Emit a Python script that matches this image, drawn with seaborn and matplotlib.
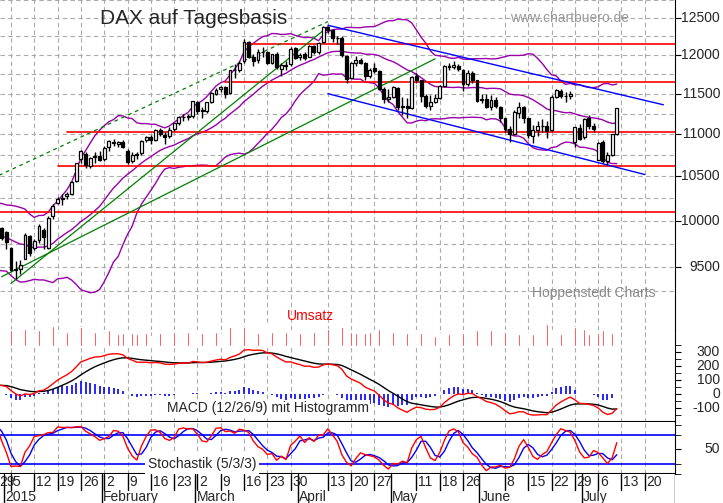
import numpy as np
import pandas as pd
import seaborn as sns
import matplotlib.pyplot as plt
import matplotlib.transforms as mtrans
from matplotlib.ticker import FixedLocator, NullLocator, NullFormatter

# warm-up closes (Nov/Dec 2014) used only for the indicators
warm_close = [9351, 9370, 9199, 9248, 9253, 9307, 9456, 9472, 9484, 9733, 9785, 9861, 9915,
              9974, 9980, 9963, 9935, 9972, 10087, 10014, 9799, 9799, 9812, 9594, 9335, 9563,
              9563, 9811, 9787, 9865, 9922]

# visible candles Dec 29 2014 .. Jul 10 2015
opens = [9850, 9920,
         9870, 9700, 9480, 9480, 9590, 9830, 9700, 9790, 9900, 9700, 10050, 10200, 10240, 10270, 10300, 10450, 10700, 10760, 10620, 10720, 10740,
         10700, 10840, 10900, 10880, 10900, 10800, 10680, 10760, 10770, 10930, 10960, 10930, 11050, 10990, 10970, 11060, 11140, 11210, 11220, 11220,
         11390, 11290, 11280, 11400, 11500, 11560, 11580, 11510, 11800, 11800, 11920, 12170, 11980, 11930, 12040, 12040, 11900, 12020, 11820, 11860, 11880, 12090,
         11970, 12010, 11980, 12120, 12040, 12170, 12380, 12330, 12230, 12230, 11990, 11700, 11900, 11940, 11900, 11730, 11830, 11790, 11560, 11430,
         11460, 11570, 11330, 11350, 11320, 11720, 11670, 11470, 11350, 11400, 11450, 11600, 11860, 11840, 11860, 11810, 11620, 11770, 11670,
         11420, 11430, 11330, 11420, 11330, 11190, 11060, 11000, 11260, 11330, 11190, 10980, 11050, 11100, 11100, 11050, 11460, 11540, 11470, 11470, 10900, 11070,
         10960, 11190, 11100, 10690, 10900, 10680, 10750, 11000]
highs = [9950, 9930,
         9880, 9710, 9560, 9570, 9860, 9840, 9800, 9960, 9920, 10050, 10180, 10260, 10300, 10320, 10450, 10660, 10810, 10780, 10730, 10780, 10800,
         10850, 10930, 10940, 10920, 10930, 10820, 10780, 10790, 10930, 10980, 10990, 11060, 11070, 11020, 11080, 11140, 11220, 11240, 11240, 11410,
         11410, 11330, 11400, 11520, 11570, 11600, 11600, 11810, 11880, 11920, 12220, 12190, 12020, 12080, 12100, 12060, 12020, 12040, 11900, 11920, 12100, 12100,
         12030, 12040, 12140, 12140, 12180, 12390, 12390, 12350, 12260, 12250, 12000, 11910, 11990, 11960, 11910, 11830, 11900, 11800, 11580, 11560,
         11600, 11580, 11460, 11440, 11720, 11760, 11680, 11500, 11480, 11500, 11610, 11870, 11900, 11920, 11880, 11820, 11800, 11790, 11680,
         11500, 11500, 11480, 11460, 11350, 11200, 11100, 11300, 11400, 11340, 11200, 11110, 11160, 11180, 11160, 11480, 11560, 11560, 11520, 11530, 11000, 11120,
         11200, 11230, 11130, 10900, 10930, 10780, 11000, 11320]
lows = [9800, 9790,
        9690, 9460, 9380, 9430, 9580, 9620, 9680, 9760, 9690, 9690, 10020, 10180, 10170, 10240, 10280, 10430, 10660, 10600, 10600, 10650, 10680,
        10680, 10800, 10850, 10840, 10830, 10640, 10660, 10700, 10750, 10900, 10880, 10920, 10980, 10880, 10950, 11040, 11110, 11160, 11170, 11200,
        11250, 11200, 11260, 11380, 11480, 11520, 11450, 11500, 11700, 11780, 11900, 11960, 11860, 11900, 11980, 11880, 11880, 11820, 11730, 11800, 11860, 11950,
        11930, 11940, 11970, 12020, 12020, 12160, 12290, 12180, 12150, 11980, 11630, 11700, 11860, 11880, 11680, 11700, 11760, 11550, 11380, 11400,
        11440, 11300, 11230, 11200, 11310, 11630, 11400, 11320, 11300, 11380, 11430, 11590, 11800, 11820, 11790, 11530, 11600, 11640, 11400,
        11380, 11320, 11290, 11320, 11150, 11030, 10900, 10990, 11200, 11140, 10950, 10890, 10980, 11030, 10950, 11040, 11440, 11450, 11400, 11430, 10840, 10930,
        10940, 11060, 11020, 10690, 10650, 10630, 10740, 10990]
closes = [9936, 9806,
          9765, 9473, 9469, 9518, 9837, 9648, 9781, 9941, 9818, 10032, 10167, 10242, 10257, 10299, 10435, 10649, 10798, 10628, 10710, 10738, 10694,
          10828, 10911, 10890, 10905, 10847, 10664, 10752, 10752, 10919, 10963, 10924, 11050, 11001, 10961, 11051, 11130, 11206, 11211, 11210, 11402,
          11281, 11280, 11391, 11504, 11550, 11582, 11500, 11806, 11799, 11901, 12167, 11980, 11922, 12036, 12039, 11896, 12012, 11843, 11866, 11868, 12086, 11966,
          12002, 11967, 12123, 12035, 12166, 12375, 12338, 12227, 12231, 11998, 11689, 11892, 11939, 11900, 11723, 11810, 11795, 11565, 11432, 11454,
          11583, 11328, 11350, 11316, 11710, 11673, 11472, 11351, 11400, 11447, 11592, 11854, 11848, 11864, 11815, 11625, 11771, 11674, 11413,
          11436, 11330, 11419, 11340, 11197, 11065, 11001, 11265, 11334, 11197, 10984, 11044, 11100, 11101, 11041, 11460, 11542, 11471, 11473, 11492, 11084, 10945,
          11180, 11099, 11059, 10891, 10677, 10747, 10997, 11316]
volume = [14, 12,
          10, 22, 20, 18, 24, 20, 18, 22, 20, 26, 28, 18, 16, 20, 24, 30, 26, 22, 18, 20, 22,
          18, 22, 20, 16, 18, 22, 18, 16, 20, 18, 14, 20, 18, 16, 18, 20, 22, 18, 20, 30,
          22, 18, 20, 22, 20, 18, 22, 26, 20, 24, 26, 34, 20, 18, 22, 30, 20, 22, 18, 20, 22, 20,
          18, 16, 18, 20, 22, 26, 24, 18, 20, 26, 30, 20, 18, 16, 18, 20, 22, 24, 26, 20,
          20, 22, 24, 18, 22, 20, 18, 16, 20, 14, 18, 22, 16, 14, 20, 18, 24, 20, 22,
          18, 20, 22, 18, 16, 20, 22, 18, 16, 20, 18, 16, 14, 18, 30, 22, 18, 16, 22, 18, 26, 20,
          24, 16, 20, 18, 22, 22, 18, 20]

holidays = ["2014-12-31", "2015-01-01", "2015-04-03", "2015-04-06", "2015-05-01", "2015-05-25"]
tick_dates = ["2014-12-29", "2015-01-05", "2015-01-12", "2015-01-19", "2015-01-26", "2015-02-02",
              "2015-02-09", "2015-02-16", "2015-02-23", "2015-03-02", "2015-03-09", "2015-03-16",
              "2015-03-23", "2015-03-30", "2015-04-13", "2015-04-20", "2015-04-27", "2015-05-11",
              "2015-05-18", "2015-05-26", "2015-06-08", "2015-06-15", "2015-06-22", "2015-06-29",
              "2015-07-06", "2015-07-13", "2015-07-20"]
months = ["2015", "February", "March", "April", "May", "June", "July"]
month_starts = ["2015-01-02", "2015-02-02", "2015-03-02", "2015-04-01", "2015-05-04", "2015-06-01", "2015-07-01"]
price_ticks = [9500, 10000, 10500, 11000, 11500, 12000, 12500]
macd_ticks = [-100, 0, 100, 200, 300]
stoch_ticks = [50]

# support / resistance levels and trend lines (date, price)
levels = [("2015-03-16", 12150), ("2015-03-10", 11650), ("2015-01-21", 11020), ("2015-01-19", 10620), ("2014-12-29", 10100)]
green_solid = [[("2014-12-30", 9400), ("2015-05-15", 11950)], [("2015-01-05", 9330), ("2015-04-13", 12380)]]
green_dash = [("2014-12-29", 10500), ("2015-04-13", 12450)]
blue_lines = [[("2015-04-13", 12400), ("2015-07-24", 11360)], [("2015-04-13", 11500), ("2015-07-20", 10520)]]

# ---- trading day index ----
days = pd.bdate_range("2014-12-29", "2015-07-31")
days = days[~days.isin(pd.to_datetime(holidays))]
pos = {d: i for i, d in enumerate(days)}
ix = lambda s: pos[pd.Timestamp(s)]
n = len(closes)
x = np.arange(n)

o, h, l, c = map(np.array, (opens, highs, lows, closes))
allc = pd.Series(warm_close + closes, dtype=float)
nw = len(warm_close)
allh = pd.Series(warm_close + highs, dtype=float)
alll = pd.Series(warm_close + lows, dtype=float)

mid = allc.rolling(20).mean()
sd = allc.rolling(20).std(ddof=0)
bb = pd.DataFrame({"x": np.arange(len(allc)) - nw, "mid": mid, "up": mid + 2 * sd, "lo": mid - 2 * sd})

macd = allc.ewm(span=12, adjust=False).mean() - allc.ewm(span=26, adjust=False).mean()
sig = macd.ewm(span=9, adjust=False).mean()
hist = macd - sig
kraw = 100 * (allc - alll.rolling(5).min()) / (allh.rolling(5).max() - alll.rolling(5).min())
kslow = kraw.rolling(3).mean()
dslow = kslow.rolling(3).mean()
ind = pd.DataFrame({"x": np.arange(len(allc)) - nw, "macd": macd, "sig": sig, "hist": hist,
                    "k": kslow, "d": dslow}).iloc[nw:]

# ---- layout ----
W, H = 723, 503
sns.set_style("white")
plt.rcParams["font.family"] = "Liberation Sans"
fig = plt.figure(figsize=(W / 100, H / 100), dpi=100)
def axes(top, bot, right=675):
    return fig.add_axes([0, 1 - bot / H, right / W, (bot - top) / H], facecolor="none")

ppd = 4.66
x0 = ix("2015-01-05") - 11 / ppd
xlim = (x0, x0 + 675 / ppd)
ticks_x = [ix(t) for t in tick_dates]

ax = axes(0, 330)
axm = axes(330, 422)
axs = axes(422, 474)
axb = axes(474, 503)
axv = fig.add_axes([0, 1 - 346 / H, 675 / W, 36 / H], facecolor="none")

ax.set_yscale("log")
for a in (ax, axm, axs):
    a.set_xlim(xlim)
    for t in ticks_x:
        a.axvline(t, color="#aaaaaa", ls=(0, (4, 3)), lw=0.8, zorder=0)
    for s in ("top", "left", "bottom"):
        a.spines[s].set_visible(False)
    a.spines["right"].set_color("black")
    a.yaxis.tick_right()
    a.tick_params(axis="y", which="both", direction="out", length=4, color="black")
    a.xaxis.set_major_locator(NullLocator())
    a.yaxis.set_major_formatter(NullFormatter())
    a.yaxis.set_minor_formatter(NullFormatter())

def right_labels(a, vals):
    tr = mtrans.blended_transform_factory(fig.transFigure, a.transData)
    for v in vals:
        a.text(720 / W, v, str(v), transform=tr, ha="right", va="center", fontsize=10, clip_on=False)

# main price panel (log scale)
ax.set_ylim(8864, 12750)
ax.yaxis.set_major_locator(FixedLocator(price_ticks))
ax.yaxis.set_minor_locator(NullLocator())
right_labels(ax, price_ticks)
for v in np.arange(9250, 12751, 250):
    ax.axhline(v, color="#aaaaaa", ls=(0, (4, 3)), lw=0.8, zorder=0)

for name in ("up", "mid", "lo"):
    sns.lineplot(data=bb, x="x", y=name, ax=ax, color="#9900aa", lw=1, estimator=None, zorder=2)
for d, v in levels:
    ax.plot([ix(d), xlim[1]], [v, v], color="red", lw=1.2, zorder=2)
for seg in green_solid:
    ax.plot([ix(seg[0][0]), ix(seg[1][0])], [seg[0][1], seg[1][1]], color="green", lw=0.9, zorder=2)
ax.plot([ix(green_dash[0][0]), ix(green_dash[1][0])], [green_dash[0][1], green_dash[1][1]],
        color="green", lw=0.9, ls=(0, (3, 3)), zorder=2)
for seg in blue_lines:
    ax.plot([ix(seg[0][0]), ix(seg[1][0])], [seg[0][1], seg[1][1]], color="blue", lw=1, zorder=2)

ax.vlines(x, l, h, color="black", lw=1, zorder=3)
up = c >= o
ax.bar(x[up], (c - o)[up], bottom=o[up], width=0.62, color="white", edgecolor="black", lw=0.9, zorder=4)
ax.bar(x[~up], (o - c)[~up], bottom=c[~up], width=0.62, color="black", edgecolor="black", lw=0.9, zorder=4)
ax.set_xlabel(""); ax.set_ylabel("")
ax.set_ylim(8864, 12750)
ax.set_xlim(xlim)

ax.text(100 / 675, 1 - 18 / 330, "DAX auf Tagesbasis", transform=ax.transAxes, fontsize=15, va="center")
ax.text(510 / 675, 1 - 18 / 330, "www.chartbuero.de", transform=ax.transAxes, fontsize=10, color="#999999", va="center")
ax.text(655 / 675, 1 - 293 / 330, "Hoppenstedt Charts", transform=ax.transAxes, fontsize=10, color="#888888", va="center", ha="right")

# volume
axv.set_xlim(xlim)
axv.axis("off")
axv.bar(x, volume, width=0.3, color="red")
axv.set_ylim(0, 50)
axv.text(310 / 675, 30 / 36, "Umsatz", transform=axv.transAxes, color="red", fontsize=10, ha="center", va="center")

# MACD
axm.set_ylim(-200, 457)
axm.yaxis.set_major_locator(FixedLocator(macd_ticks))
axm.yaxis.set_minor_locator(FixedLocator([-150, -50, 50, 150, 250, 350]))
right_labels(axm, macd_ticks)
axm.vlines(ind["x"], 0, ind["hist"], color="blue", lw=1.2)
sns.lineplot(data=ind, x="x", y="sig", ax=axm, color="black", lw=1, estimator=None)
sns.lineplot(data=ind, x="x", y="macd", ax=axm, color="red", lw=1, estimator=None)
axm.set_xlabel(""); axm.set_ylabel("")
axm.set_xlim(xlim); axm.set_ylim(-200, 457)
axm.axhline(-200, color="black", lw=1.5)
axm.text(268 / 675, -100, "MACD (12/26/9) mit Histogramm", transform=axm.get_yaxis_transform(),
         fontsize=10, ha="center", va="center", bbox=dict(fc="white", ec="none", pad=1))

# stochastic
axs.set_ylim(-1, 107)
axs.yaxis.set_major_locator(FixedLocator(stoch_ticks))
axs.yaxis.set_minor_locator(FixedLocator([0, 20, 80, 100]))
right_labels(axs, stoch_ticks)
for v in (20, 80):
    axs.axhline(v, color="blue", lw=1.2)
sns.lineplot(data=ind, x="x", y="d", ax=axs, color="blue", lw=1, estimator=None)
sns.lineplot(data=ind, x="x", y="k", ax=axs, color="red", lw=1, estimator=None)
axs.set_xlabel(""); axs.set_ylabel("")
axs.set_xlim(xlim); axs.set_ylim(-1, 107)
axs.axhline(-1, color="black", lw=1.5)
axs.text(202 / 675, 20, "Stochastik (5/3/3)", transform=axs.get_yaxis_transform(),
         fontsize=10, ha="center", va="center", bbox=dict(fc="white", ec="none", pad=2))

# date axis
axb.set_xlim(xlim); axb.set_ylim(0, 29)
axb.axis("off")
for t, tx in zip(tick_dates, ticks_x):
    axb.plot([tx, tx], [13, 29], color="black", lw=1)
    axb.text(tx + 0.4, 21, str(pd.Timestamp(t).day), fontsize=10, va="center", ha="left", clip_on=True)
for m, s in zip(months, month_starts):
    mx = ix(s) - 0.5
    axb.plot([mx, mx], [0, 29], color="black", lw=1)
    axb.text(mx + 0.3, 6, m, fontsize=10, va="center", ha="left")
axb.plot([xlim[1] - 0.05] * 2, [0, 29], color="black", lw=1)

fig.savefig("out.png", dpi=100)
